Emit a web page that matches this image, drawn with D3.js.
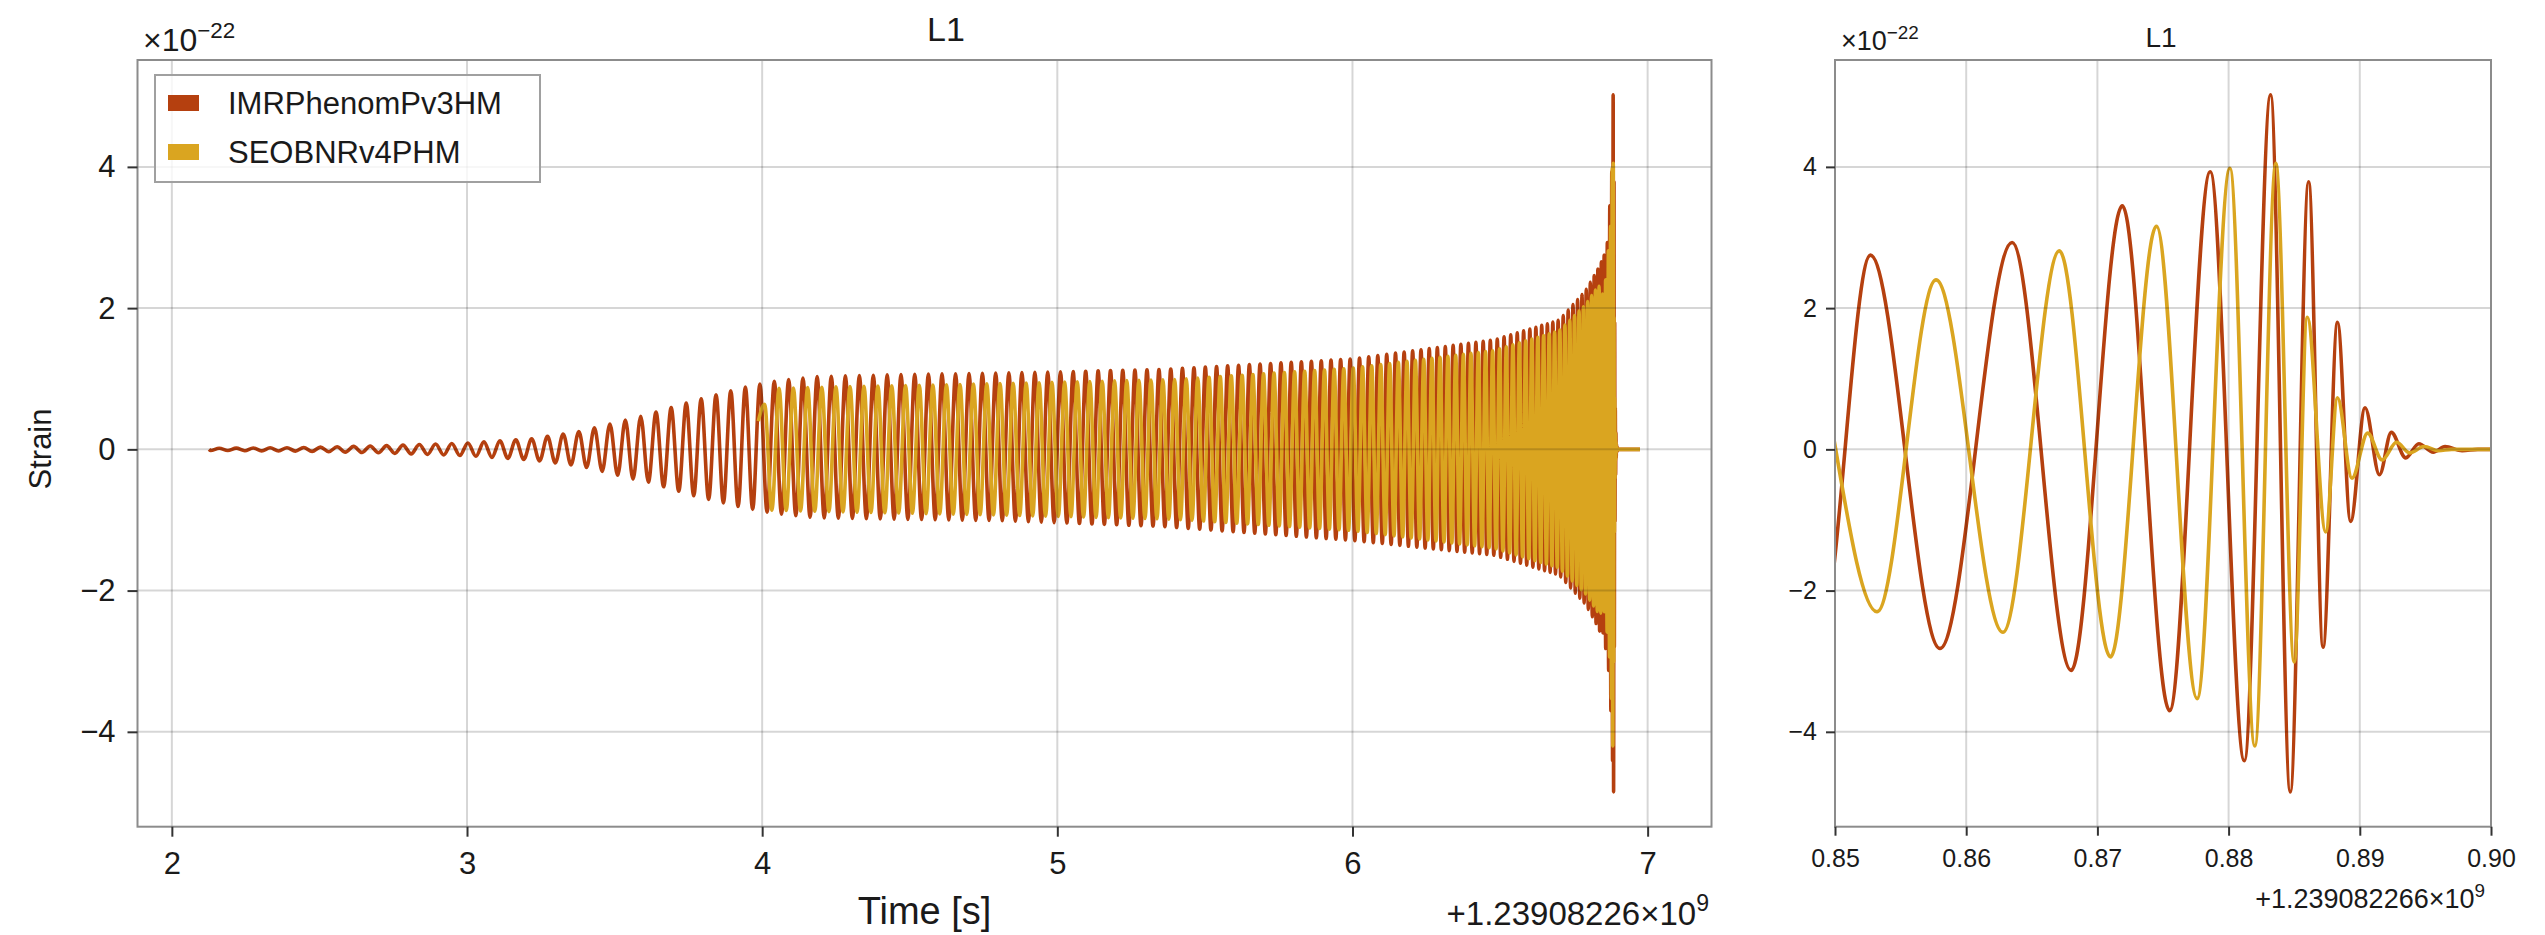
<!DOCTYPE html>
<html>
<head>
<meta charset="utf-8">
<script src="https://cdn.jsdelivr.net/npm/d3@7/dist/d3.min.js"></script>
<style>
body { margin: 0; background: #fff; }
text { font-family: "Liberation Sans", Arial, Helvetica, sans-serif; fill: #1a1a1a; }
</style>
</head>
<body>
<svg id="chart" width="2545" height="935"></svg>
<script>
// time is in seconds after 1239082260, strain in units of 1e-22

var seriesNames = ["IMRPhenomPv3HM", "SEOBNRv4PHM"];
var seriesColors = ["#b5400f", "#daa520"];

// start / end of the two traces
var imrStart = 2.126, seobStart = 3.987, waveEnd = 6.974;

// inspiral envelope
var imrEnvT    = [2.126, 2.43, 2.71, 3.0, 3.22, 3.39, 3.56, 3.61, 3.77, 3.93, 4.03, 4.18, 4.47, 4.80, 5.35, 6.0, 6.48, 6.70, 6.79, 6.83, 6.86];
var imrEnvUp   = [0.015, 0.025, 0.05, 0.09, 0.15, 0.26, 0.44, 0.49, 0.69, 0.87, 0.96, 1.03, 1.06, 1.08, 1.13, 1.28, 1.55, 1.83, 2.25, 2.54, 2.80];
var imrEnvDown = [0.015, 0.025, 0.05, 0.09, 0.15, 0.24, 0.42, 0.46, 0.66, 0.82, 0.90, 0.97, 0.99, 1.01, 1.09, 1.29, 1.50, 1.78, 2.20, 2.50, 2.80];

var seobEnvT   = [3.987, 4.03, 4.20, 4.80, 5.40, 6.0, 6.48, 6.70, 6.79, 6.83, 6.86];
var seobEnvAmp = [0.42, 0.86, 0.88, 0.93, 0.99, 1.15, 1.40, 1.68, 2.05, 2.30, 2.35];

// local oscillation period (s), read from the stripe spacing
var periodT = [2.13, 2.9, 3.6, 4.0, 4.7, 5.33, 6.0, 6.4, 6.6, 6.75, 6.82, 6.85];
var periodS = [0.058, 0.055, 0.052, 0.049, 0.0456, 0.0406, 0.032, 0.0255, 0.021, 0.016, 0.013, 0.0112];

// merger and ringdown extrema
var imrMergerT = [6.8489, 6.8527, 6.8580, 6.8635, 6.8680, 6.8719, 6.8755, 6.8786, 6.8812, 6.8832, 6.8847,
                  6.8861, 6.8872, 6.8883, 6.8893, 6.8904, 6.8915, 6.8924, 6.8935, 6.8945, 6.8956, 6.8965, 6.8978, 6.8990];
var imrMergerV = [-2.60, 2.75, -2.82, 2.93, -3.13, 3.45, -3.70, 3.93, -4.41, 5.02, -4.85,
                  3.79, -2.80, 1.80, -1.02, 0.59, -0.36, 0.24, -0.12, 0.08, -0.04, 0.04, -0.02, 0];
var seobMergerT = [6.8470, 6.8532, 6.8577, 6.8628, 6.8671, 6.8710, 6.8745, 6.8776, 6.8801, 6.8820, 6.8836,
                   6.8850, 6.8860, 6.8874, 6.8883, 6.8894, 6.8906, 6.8917, 6.8928, 6.8938, 6.8949, 6.8960, 6.8970];
var seobMergerV = [2.20, -2.30, 2.40, -2.59, 2.81, -2.94, 3.16, -3.53, 3.98, -4.20, 4.05,
                   -3.01, 1.87, -1.17, 0.73, -0.41, 0.23, -0.15, 0.10, -0.05, 0.04, -0.02, 0];

var xTicksMain = [2, 3, 4, 5, 6, 7];
var xTicksZoom = [6.85, 6.86, 6.87, 6.88, 6.89, 6.90];
var yTicks = [-4, -2, 0, 2, 4];

// ---------------------------------------------------------------

var svg = d3.select("#chart");

var plotTop = 60, plotBottom = 826.7;
var panels = [
    {id: "main", x0: 137.5, x1: 1711.5, tickFont: 31, tickLen: 10, pad: [15, 12]},
    {id: "zoom", x0: 1835, x1: 2491, tickFont: 25, tickLen: 9, pad: [14, 9]}
];

var periodAt = d3.scaleLinear().domain(periodT).range(periodS).clamp(true);

// walk back from the first merger extremum, half a period per step
function buildTrace(start, startV, envT, envUp, envDown, mT, mV){
    var up = d3.scaleLinear().domain(envT).range(envUp).clamp(true);
    var down = d3.scaleLinear().domain(envT).range(envDown).clamp(true);
    var pts = [];
    var t = mT[0], sign = mV[0] > 0 ? 1 : -1;
    while(true){
        t -= periodAt(t) / 2;
        sign = -sign;
        if(t <= start) break;
        pts.unshift([t, sign > 0 ? up(t) : -down(t)]);
    }
    pts.unshift([start, startV]);
    mT.forEach(function(d, i){ pts.push([d, mV[i]]); });
    pts.push([waveEnd, 0]);
    return pts;
}

var traces = [
    buildTrace(imrStart, 0, imrEnvT, imrEnvUp, imrEnvDown, imrMergerT, imrMergerV),
    buildTrace(seobStart, 0.4, seobEnvT, seobEnvAmp, seobEnvAmp, seobMergerT, seobMergerV)
];

var allV = [];
traces.forEach(function(tr){ tr.forEach(function(p){ allV.push(p[1]); }); });
var yExt = d3.extent(allV);
var yPad = (yExt[1] - yExt[0]) * 0.05;
var xPad = (waveEnd - imrStart) * 0.05;

panels[0].domain = [imrStart - xPad, waveEnd + xPad];
panels[1].domain = [6.85, 6.90];

var y = d3.scaleLinear().domain([yExt[0] - yPad, yExt[1] + yPad]).range([plotBottom, plotTop]);

panels.forEach(function(p){
    var x = d3.scaleLinear().domain(p.domain).range([p.x0, p.x1]);
    p.x = x;
    var g = svg.append("g").attr("class", "panel-" + p.id);

    g.append("clipPath").attr("id", "clip-" + p.id)
        .append("rect").attr("x", p.x0).attr("y", plotTop)
        .attr("width", p.x1 - p.x0).attr("height", plotBottom - plotTop);

    var line = d3.line()
        .x(function(d){ return x(d[0]); })
        .y(function(d){ return y(d[1]); })
        .curve(d3.curveMonotoneX);

    var lines = g.append("g").attr("clip-path", "url(#clip-" + p.id + ")");
    traces.forEach(function(tr, i){
        lines.append("path")
            .attr("d", line(tr))
            .attr("fill", "none")
            .attr("stroke", seriesColors[i])
            .attr("stroke-width", 3.6)
            .attr("stroke-linejoin", "round");
    });

    // grid sits on top of the traces
    var ticksX = p.id === "main" ? xTicksMain : xTicksZoom;
    var grid = g.append("g").attr("stroke", "rgba(0,0,0,0.16)").attr("stroke-width", 2);
    ticksX.forEach(function(v){
        grid.append("line").attr("x1", x(v)).attr("x2", x(v)).attr("y1", plotTop).attr("y2", plotBottom);
    });
    yTicks.forEach(function(v){
        grid.append("line").attr("x1", p.x0).attr("x2", p.x1).attr("y1", y(v)).attr("y2", y(v));
    });

    g.append("rect")
        .attr("x", p.x0).attr("y", plotTop)
        .attr("width", p.x1 - p.x0).attr("height", plotBottom - plotTop)
        .attr("fill", "none").attr("stroke", "#8c8c8c").attr("stroke-width", 2);

    var fmt = p.id === "main" ? d3.format("d") : function(v){ return d3.format(".2f")(v - 6); };
    var xAxis = g.append("g")
        .attr("transform", "translate(0," + plotBottom + ")")
        .call(d3.axisBottom(x).tickValues(ticksX).tickFormat(fmt)
            .tickSize(p.tickLen).tickPadding(p.pad[0]));
    var yAxis = g.append("g")
        .attr("transform", "translate(" + p.x0 + ",0)")
        .call(d3.axisLeft(y).tickValues(yTicks).tickFormat(d3.format("d"))
            .tickSize(p.tickLen).tickPadding(p.pad[1]));
    [xAxis, yAxis].forEach(function(a){
        a.select(".domain").remove();
        a.attr("font-family", null).attr("font-size", p.tickFont);
        a.selectAll(".tick line").attr("stroke", "#333").attr("stroke-width", 2);
        a.selectAll(".tick text").attr("fill", "#1a1a1a");
    });
});

// text with a superscript part
function sciLabel(x, yBase, main, sup, size, anchor){
    var t = svg.append("text").attr("y", yBase).attr("font-size", size).text(main);
    var s = svg.append("text").attr("y", yBase - size * 0.42).attr("font-size", size * 0.7).text(sup);
    var w1 = t.node().getComputedTextLength(), w2 = s.node().getComputedTextLength();
    var x0 = anchor === "end" ? x - w1 - w2 : x;
    t.attr("x", x0);
    s.attr("x", x0 + w1);
}

// titles
svg.append("text").attr("x", 946).attr("y", 41)
    .attr("text-anchor", "middle").attr("font-size", 34).text("L1");
svg.append("text").attr("x", 2161).attr("y", 47)
    .attr("text-anchor", "middle").attr("font-size", 28).text("L1");

// multiplier and offset labels
sciLabel(143, 51, "\u00d710", "\u221222", 32, "start");
sciLabel(1841, 50, "\u00d710", "\u221222", 27, "start");
sciLabel(1709, 925, "+1.23908226\u00d710", "9", 33, "end");
sciLabel(2485, 908, "+1.239082266\u00d710", "9", 27, "end");

// axis labels
svg.append("text").attr("x", (panels[0].x0 + panels[0].x1) / 2).attr("y", 924)
    .attr("text-anchor", "middle").attr("font-size", 38).text("Time [s]");
svg.append("text").attr("transform", "translate(51,449) rotate(-90)")
    .attr("text-anchor", "middle").attr("font-size", 31).text("Strain");

// legend
var lg = svg.append("g");
lg.append("rect").attr("x", 155).attr("y", 75).attr("width", 385).attr("height", 107)
    .attr("fill", "#fff").attr("fill-opacity", 0.8).attr("stroke", "#a0a0a0").attr("stroke-width", 2);
seriesNames.forEach(function(name, i){
    var cy = 103 + i * 49;
    lg.append("rect").attr("x", 168).attr("y", cy - 8).attr("width", 31).attr("height", 16)
        .attr("fill", seriesColors[i]);
    lg.append("text").attr("x", 228).attr("y", cy + 11).attr("font-size", 31).text(name);
});
</script>
</body>
</html>
